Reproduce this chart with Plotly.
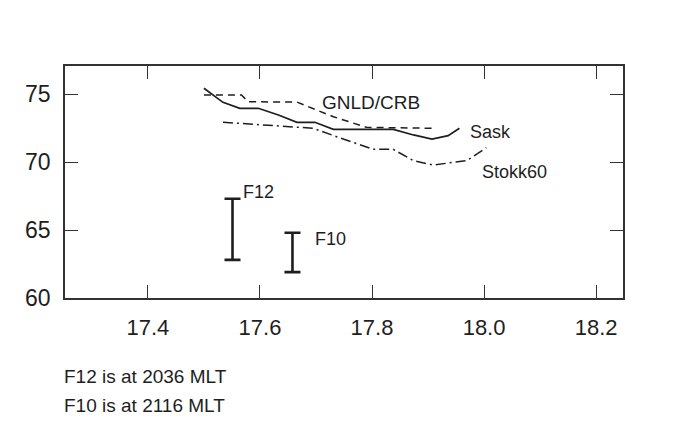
import plotly.graph_objects as go

# Sask (solid)
sask_x = [17.500, 17.534, 17.564, 17.597, 17.633, 17.666, 17.698, 17.731, 17.838, 17.874, 17.907, 17.936, 17.956]
sask_y = [75.42, 74.39, 73.95, 73.95, 73.46, 72.92, 72.92, 72.40, 72.40, 71.99, 71.69, 71.94, 72.48]

# GNLD/CRB (dashed)
gnld_x = [17.500, 17.567, 17.579, 17.666, 17.731, 17.790, 17.907]
gnld_y = [74.93, 74.93, 74.43, 74.41, 73.33, 72.55, 72.48]

# Stokk60 (dash-dot)
stokk_x = [17.534, 17.654, 17.695, 17.737, 17.802, 17.838, 17.874, 17.909, 17.969, 18.004]
stokk_y = [72.92, 72.60, 72.48, 71.86, 70.93, 70.93, 70.10, 69.78, 70.10, 71.05]

# Satellite boundary ranges
sat_names = ["F12", "F10"]
sat_x = [17.551, 17.658]
sat_low = [62.8, 61.9]
sat_high = [67.3, 64.8]

x_ticks = [17.4, 17.6, 17.8, 18.0, 18.2]
y_ticks = [60, 65, 70, 75]

ink = "#1e1e1e"
fig = go.Figure()
fig.add_trace(go.Scatter(x=sask_x, y=sask_y, mode="lines",
                         line=dict(color=ink, width=1.7), showlegend=False))
fig.add_trace(go.Scatter(x=gnld_x, y=gnld_y, mode="lines",
                         line=dict(color=ink, width=1.5, dash="7px,5px"), showlegend=False))
fig.add_trace(go.Scatter(x=stokk_x, y=stokk_y, mode="lines",
                         line=dict(color=ink, width=1.5, dash="10px,4px,2px,4px"), showlegend=False))
fig.add_trace(go.Scatter(
    x=sat_x, y=sat_low, mode="markers",
    marker=dict(size=1, color="rgba(0,0,0,0)"),
    error_y=dict(type="data", symmetric=False,
                 array=[h - l for h, l in zip(sat_high, sat_low)],
                 arrayminus=[0, 0], color=ink, thickness=2.6, width=8),
    showlegend=False))

font = "Liberation Sans, Arial, Helvetica, sans-serif"
ann = dict(showarrow=False, xanchor="left", yanchor="middle",
           font=dict(family=font, size=18, color=ink))
fig.add_annotation(x=17.707, y=74.41, text="GNLD/CRB", **{**ann, "font": dict(family=font, size=19, color=ink)})
fig.add_annotation(x=17.971, y=72.21, text="Sask", **ann)
fig.add_annotation(x=17.993, y=69.26, text="Stokk60", **ann)
fig.add_annotation(x=17.566, y=67.79, text="F12", **ann)
fig.add_annotation(x=17.695, y=64.34, text="F10", **ann)

foot = dict(showarrow=False, xanchor="left", yanchor="middle", xref="paper", yref="paper",
            font=dict(family=font, size=19, color=ink))
fig.add_annotation(x=-0.005, y=(290 - 368) / 232, text="F12 is at 2036 MLT", **foot)
fig.add_annotation(x=-0.005, y=(290 - 397) / 232, text="F10 is at 2116 MLT", **foot)

axis_common = dict(showgrid=False, zeroline=False, showline=True, linecolor="#333333",
                   linewidth=1.5, mirror="ticks", ticks="inside", ticklen=13,
                   tickwidth=1.2, tickcolor="#333333")
fig.update_xaxes(range=[17.252, 18.248], tickvals=x_ticks,
                 ticktext=[f"{v:.1f}" for v in x_ticks], ticklabelstandoff=9,
                 tickfont=dict(family=font, size=22, color=ink), **axis_common)
fig.update_yaxes(range=[60, 77.06], tickvals=y_ticks,
                 ticktext=[str(v) for v in y_ticks], ticklabelstandoff=8,
                 tickfont=dict(family=font, size=23, color=ink), **axis_common)

# the page body keeps an 8px default margin, so the figure is 8px smaller
fig.update_layout(width=672, height=432, paper_bgcolor="white", plot_bgcolor="white",
                  margin=dict(l=57, r=57, t=58, b=142), showlegend=False)
fig.write_html("out.html")
